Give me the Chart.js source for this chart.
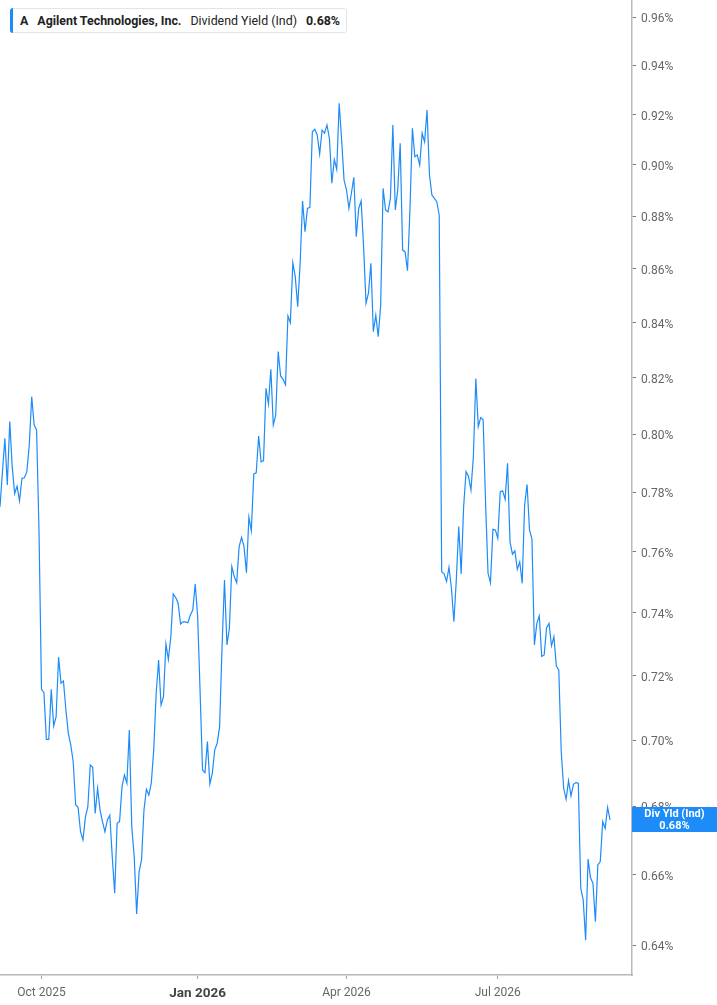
<!DOCTYPE html>
<html>
<head>
<meta charset="utf-8">
<script src="https://cdn.jsdelivr.net/npm/chart.js@4.4.1/dist/chart.umd.min.js"></script>
<style>
  html, body { margin: 0; padding: 0; background: #fff; }
  #wrap { position: relative; width: 717px; height: 1005px; }
  #legend {
    position: absolute; left: 10px; top: 8px; height: 25px; box-sizing: border-box;
    border: 1px solid #e4e4e4; border-radius: 3px; background: #fff;
    display: flex; align-items: center; padding: 0 6px 0 9px;
    font-family: Roboto, "Liberation Sans", sans-serif; font-size: 12.4px; color: #222;
    white-space: nowrap;
  }
  #legend .bar { position: absolute; left: -1px; top: -1px; bottom: -1px; width: 3px;
    background: #1d8cf8; border-radius: 3px 0 0 3px; }
  #legend b { font-weight: 700; }
  #legend .gap { margin-left: 9px; }
</style>
</head>
<body>
<div id="wrap">
  <canvas id="c" width="717" height="1005"></canvas>
  <div id="legend"><span class="bar"></span><b id="lgTicker"></b><b class="gap" id="lgName"></b><span class="gap" id="lgMetric"></span><b class="gap" id="lgValue"></b></div>
</div>
<script>
// ---- Data ----
const ticker = 'A';
const companyName = 'Agilent Technologies, Inc.';
const metricName = 'Dividend Yield (Ind)';
const boxTitle = 'Div Yld (Ind)';

// first trading day shown and market holidays (for the trading-day category axis)
const startDate = '2025-09-08';
const totalSlots = 260;
const holidays = ['2025-11-27','2025-12-25','2026-01-01','2026-01-19','2026-02-16',
                  '2026-04-03','2026-05-25','2026-06-19','2026-07-03','2026-09-07'];
const monthNames = ['Jan','Feb','Mar','Apr','May','Jun','Jul','Aug','Sep','Oct','Nov','Dec'];
const quarterMonths = [0, 3, 6, 9];

// y-axis tick values (percent)
const yTicks = [0.64,0.66,0.68,0.70,0.72,0.74,0.76,0.78,0.80,0.82,0.84,0.86,0.88,0.90,0.92,0.94,0.96];
const yMin = 0.6317, yMax = 0.9672;

// dividend yield (%) per trading day
const divYield = [
0.7751,0.787,0.7986,0.7825,0.8045,0.7888,0.7796,0.7821,0.7771,0.7848,
0.785,0.7871,0.7963,0.8133,0.8033,0.8015,0.7662,0.7157,0.7146,0.7002,
0.7002,0.7157,0.7043,0.7072,0.7258,0.7176,0.7183,0.7093,0.7020,0.6985,
0.6934,0.6804,0.6797,0.6725,0.6701,0.6768,0.6799,0.6924,0.6917,0.6779,
0.6854,0.6789,0.6755,0.6725,0.6760,0.6774,0.6652,0.6547,0.6750,0.6755,
0.6859,0.6894,0.6869,0.7031,0.6740,0.6652,0.6488,0.6608,0.6643,0.6789,
0.6851,0.6834,0.6869,0.6970,0.7144,0.7249,0.7108,0.7134,0.7300,0.7251,
0.7323,0.7461,0.7450,0.7431,0.7364,0.7371,0.7371,0.7368,0.7393,0.7409,
0.7494,0.7389,0.7149,0.6909,0.6901,0.6995,0.6867,0.6899,0.6970,0.6990,
0.7041,0.7291,0.7507,0.7297,0.7350,0.7551,0.7518,0.7498,0.7617,0.7648,
0.7617,0.7531,0.7716,0.7671,0.7863,0.7867,0.7994,0.7905,0.7909,0.8163,
0.8107,0.8231,0.8033,0.8068,0.8295,0.8207,0.8195,0.8175,0.8425,0.8400,
0.8623,0.8571,0.8459,0.8621,0.8859,0.8741,0.8830,0.8834,0.9131,0.9141,
0.9118,0.9043,0.9138,0.9125,0.9158,0.9105,0.8928,0.9021,0.8982,0.9245,
0.9098,0.8940,0.8902,0.8830,0.8889,0.8951,0.8722,0.8830,0.8859,0.8684,
0.8472,0.8509,0.8621,0.8367,0.8428,0.8349,0.8465,0.8908,0.8824,0.8817,
0.8869,0.9158,0.8824,0.8902,0.9085,0.8671,0.8665,0.8593,0.8824,0.9145,
0.9032,0.9039,0.8999,0.9125,0.9091,0.9218,0.8960,0.8882,0.8869,0.8856,
0.8804,0.7534,0.7527,0.7502,0.7549,0.7480,0.7371,0.7507,0.7684,0.7527,
0.7751,0.7871,0.7854,0.7808,0.7923,0.8198,0.8027,0.8059,0.8051,0.7763,
0.7529,0.7498,0.7675,0.7673,0.7645,0.7802,0.7805,0.7776,0.7900,0.7634,
0.7592,0.7603,0.7542,0.7567,0.7496,0.7757,0.7827,0.7673,0.7642,0.7297,
0.7366,0.7390,0.7260,0.7265,0.7352,0.7366,0.7294,0.7323,0.7230,0.7217,
0.6964,0.6854,0.6821,0.6877,0.6831,0.6866,0.6871,0.6869,0.6561,0.6528,
0.6414,0.6645,0.6591,0.6575,0.6466,0.6628,0.6638,0.6755,0.6735,0.6797,
0.6760
];

// ---- Build trading-day labels ----
function pad(n){ return String(n).padStart(2,'0'); }
function isoOf(d){ return d.getUTCFullYear()+'-'+pad(d.getUTCMonth()+1)+'-'+pad(d.getUTCDate()); }
const labels = [];
(function(){
  const d = new Date(startDate + 'T00:00:00Z');
  while (labels.length < totalSlots) {
    const wd = d.getUTCDay();
    const iso = isoOf(d);
    if (wd !== 0 && wd !== 6 && holidays.indexOf(iso) < 0) labels.push(iso);
    d.setUTCDate(d.getUTCDate() + 1);
  }
})();
function monthOf(iso){ return parseInt(iso.slice(5,7),10) - 1; }
function yearOf(iso){ return iso.slice(0,4); }
const quarterIdx = labels.map((l,i)=>i).filter(i => i > 0 && monthOf(labels[i]) !== monthOf(labels[i-1]) && quarterMonths.indexOf(monthOf(labels[i])) >= 0);

const series = labels.map((l,i) => i < divYield.length ? divYield[i] : null);
const lastVal = divYield[divYield.length - 1];
const lastText = lastVal.toFixed(2) + '%';

document.getElementById('lgTicker').textContent = ticker;
document.getElementById('lgName').textContent = companyName;
document.getElementById('lgMetric').textContent = metricName;
document.getElementById('lgValue').textContent = lastText;

const FONT = 'Roboto, "Liberation Sans", sans-serif';
const LINE = '#1d8cf8';

const lastBox = {
  id: 'lastBox',
  afterDraw(chart) {
    const ctx = chart.ctx;
    const ys = chart.scales.y;
    const y = ys.getPixelForValue(lastVal);
    const x0 = chart.chartArea.right;
    const x1 = chart.width;
    ctx.save();
    ctx.fillStyle = '#1d8cf8';
    ctx.fillRect(x0, Math.round(y - 12.5), x1 - x0, 25);
    ctx.fillStyle = '#fff';
    ctx.textAlign = 'center';
    ctx.textBaseline = 'middle';
    ctx.font = 'bold 11px ' + FONT;
    ctx.fillText(boxTitle, (x0 + x1) / 2, y - 5.5);
    ctx.fillText(lastText, (x0 + x1) / 2, y + 6);
    ctx.restore();
  }
};

new Chart(document.getElementById('c'), {
  type: 'line',
  data: {
    labels: labels,
    datasets: [{
      data: series,
      borderColor: LINE,
      borderWidth: 1.2,
      pointRadius: 0,
      pointHoverRadius: 0,
      tension: 0,
      fill: false,
      spanGaps: false
    }]
  },
  options: {
    responsive: false,
    animation: false,
    devicePixelRatio: 1,
    layout: { padding: 0 },
    plugins: { legend: { display: false }, tooltip: { enabled: false } },
    scales: {
      x: {
        type: 'category',
        offset: false,
        border: { display: true, color: '#b8b8b8', width: 1.5 },
        grid: { display: true, drawOnChartArea: false, drawTicks: true, tickLength: 4, color: '#a0a0a0' },
        afterBuildTicks(scale) {
          scale.ticks = quarterIdx.map(i => ({ value: i }));
        },
        afterFit(scale) { scale.height = 30; scale.paddingLeft = 0; scale.paddingRight = 0; },
        ticks: {
          autoSkip: false,
          maxRotation: 0,
          padding: 7,
          color: (ctx) => (ctx.tick && monthOf(labels[ctx.tick.value]) === 0) ? '#444' : '#666',
          font: (ctx) => (ctx.tick && monthOf(labels[ctx.tick.value]) === 0)
            ? { family: FONT, size: 13.5, weight: 'bold' }
            : { family: FONT, size: 12 },
          callback: (v) => monthNames[monthOf(labels[v])] + ' ' + yearOf(labels[v])
        }
      },
      y: {
        type: 'logarithmic',
        position: 'right',
        min: yMin,
        max: yMax,
        border: { display: true, color: '#b8b8b8', width: 1.5 },
        grid: { display: true, drawOnChartArea: false, drawTicks: true, tickLength: 4, color: '#777' },
        afterBuildTicks(scale) {
          scale.ticks = yTicks.map(v => ({ value: v }));
        },
        afterFit(scale) { scale.width = 85; scale.paddingTop = 0; scale.paddingBottom = 0; },
        ticks: {
          autoSkip: false,
          padding: 5,
          labelOffset: 2,
          color: '#666',
          font: { family: FONT, size: 12 },
          callback: (v) => Number(v).toFixed(2) + '%'
        }
      }
    }
  },
  plugins: [lastBox]
});
</script>
</body>
</html>
